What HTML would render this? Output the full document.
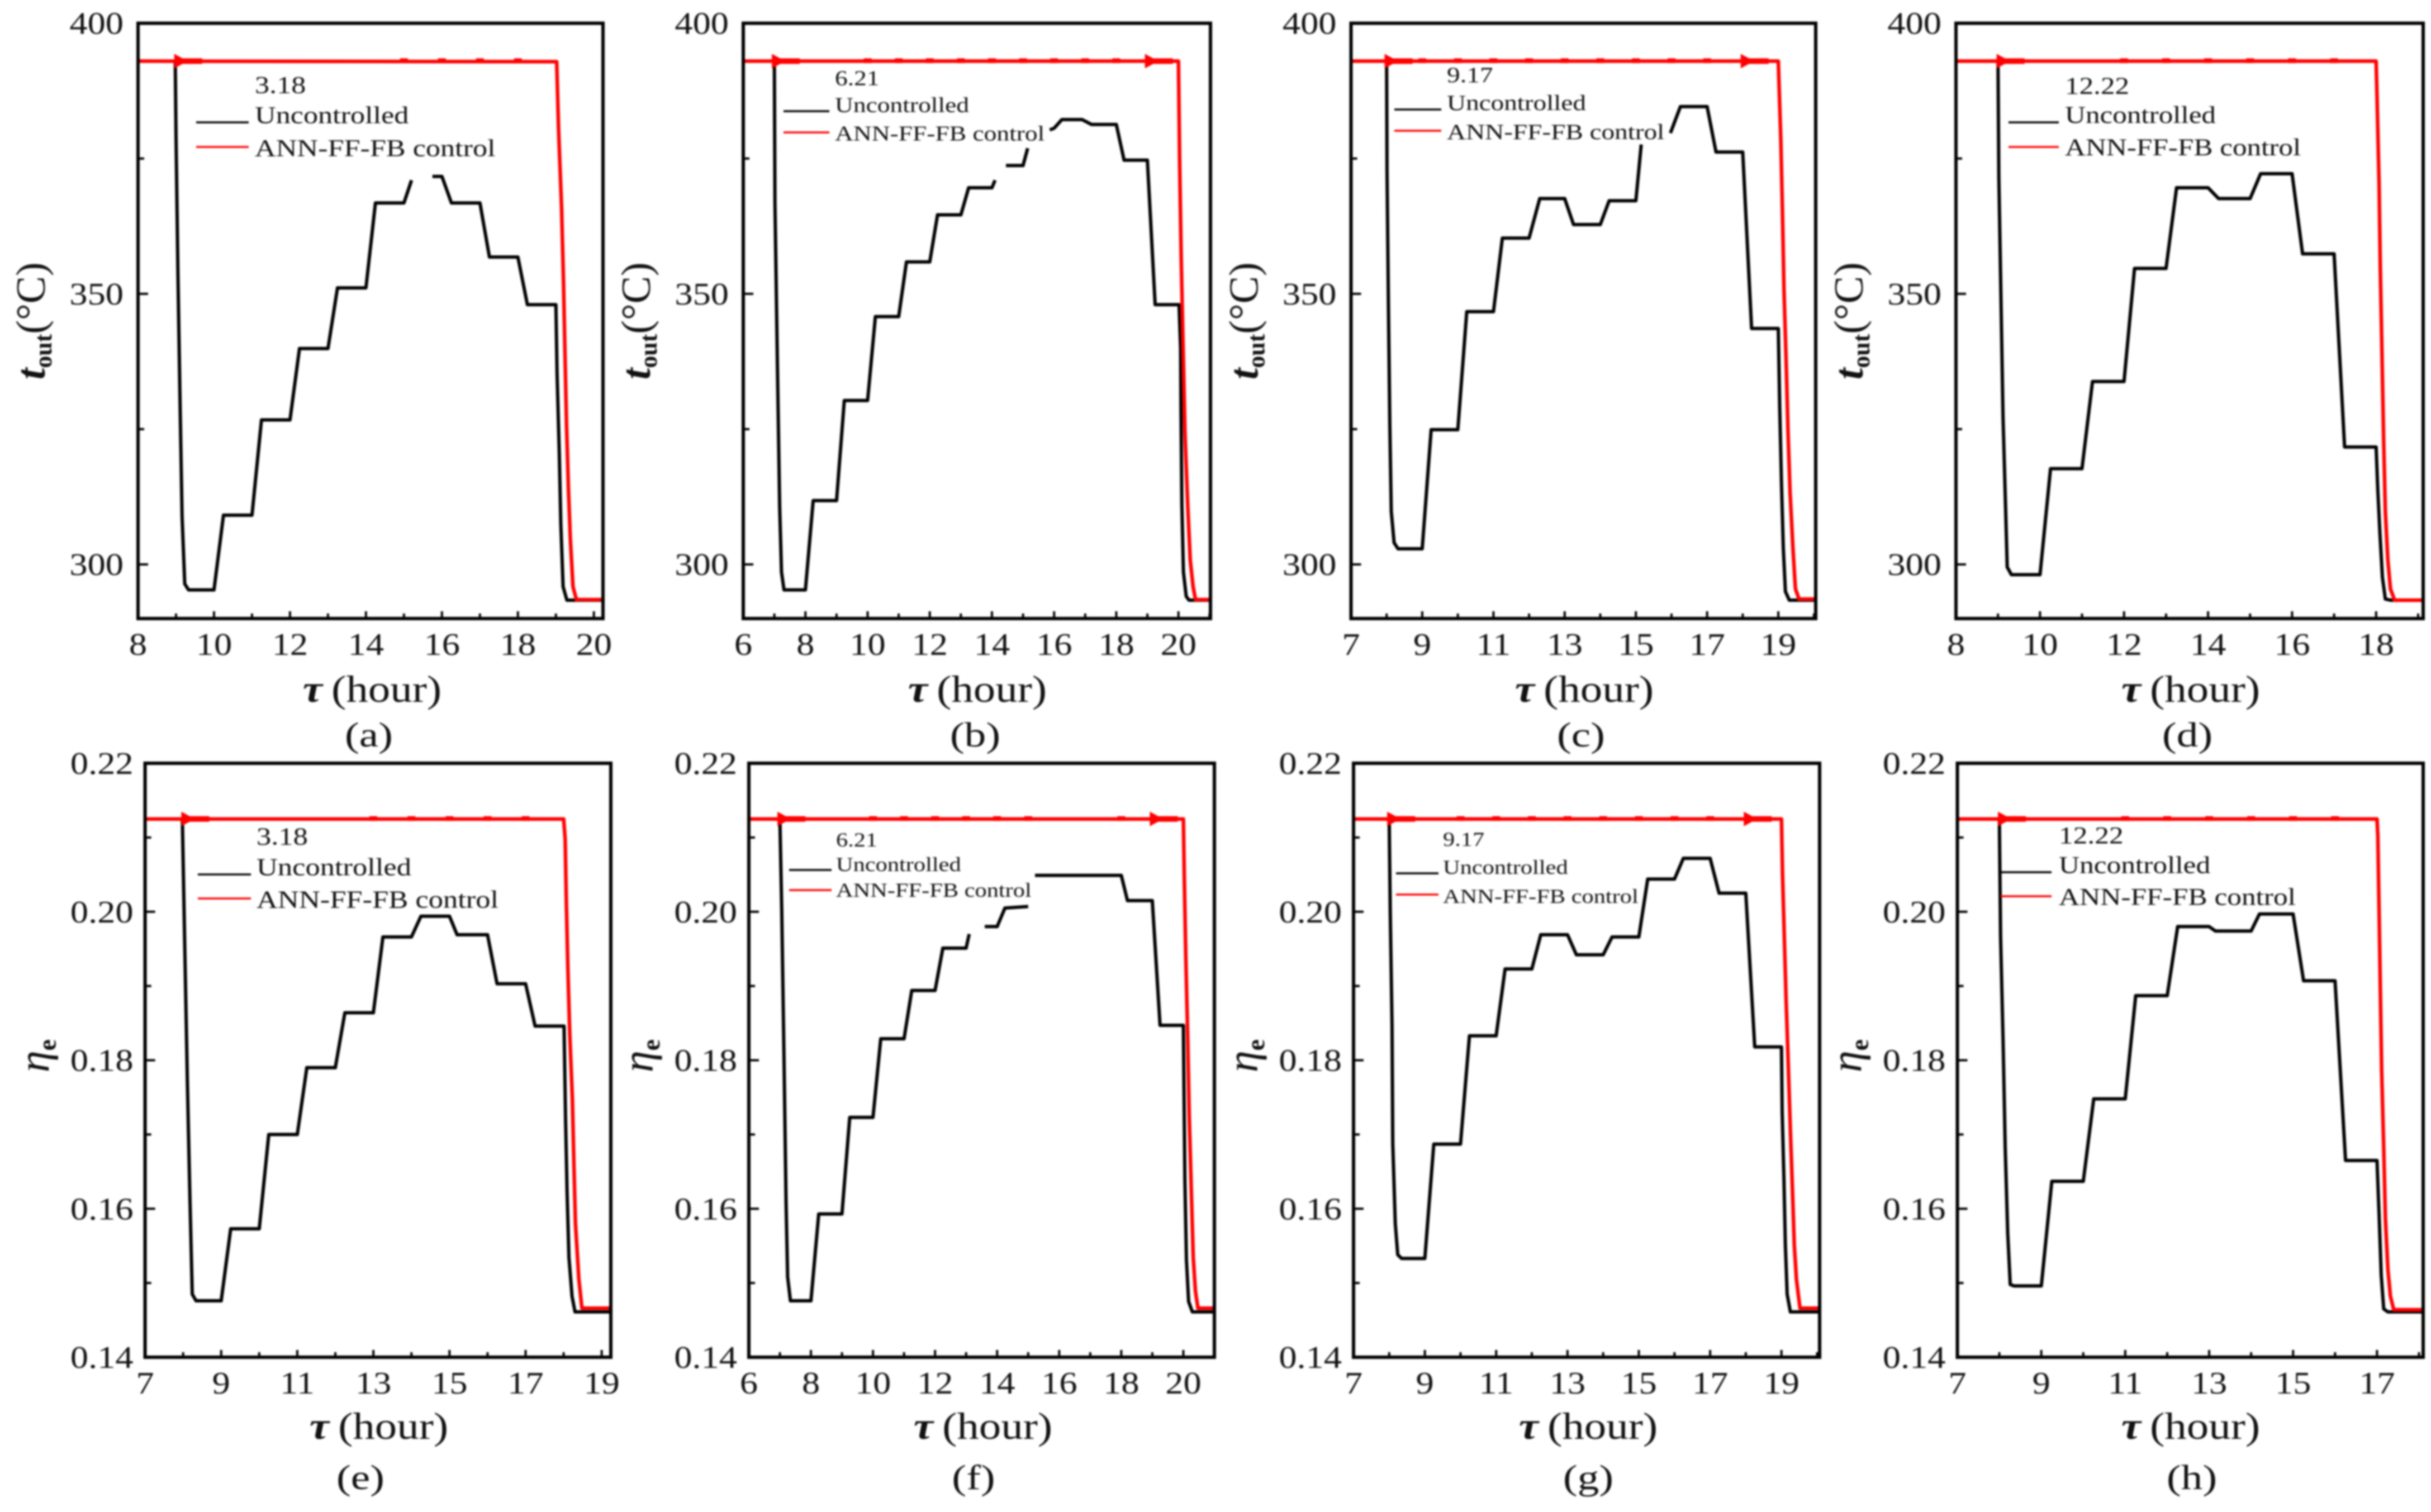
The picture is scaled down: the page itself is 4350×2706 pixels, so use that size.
<!DOCTYPE html>
<html lang="en">
<head>
<meta charset="utf-8">
<title>Outlet temperature and efficiency, uncontrolled vs ANN-FF-FB control</title>
<style>
html,body{margin:0;padding:0;background:#fff;width:4350px;height:2706px;overflow:hidden}
svg{display:block;filter:blur(1.5px)}
text{font-family:"Liberation Serif","DejaVu Serif",serif;fill:#111}
</style>
</head>
<body>
<svg id="figure" xmlns="http://www.w3.org/2000/svg" width="4350" height="2706" viewBox="0 0 4350 2706"></svg>
<script>
// ---- Data (null = gap in the trace) ----
const tauUncA = [8.98,9,9.05,9.11,9.16,9.23,9.33,10,10.25,11,11.25,12,12.25,13,13.25,14,14.25,15,15.2,null,15.75,16,16.25,17,17.25,18,18.25,19,19.03,19.09,19.13,19.19,19.29,20.24];
const uncA    = [393,378.8,353.7,328.1,308.9,296.4,295.3,295.3,309.1,309.1,326.7,326.7,339.9,339.9,351.1,351.1,366.8,366.8,371,null,371.7,371.7,366.8,366.8,356.8,356.8,348,348,335.3,320.5,307.5,295.9,293.4,293.4];
const tauCtlA = [8,19.02,19.07,19.15,19.2,19.24,19.28,19.33,19.38,19.45,19.54,20.24];
const ctlA    = [393,392.9,380.5,365.8,352.3,338.9,325.9,314.2,304.8,295.9,293.5,293.5];
const arrowsA = [9.1];
const blipsA  = [15,16,17,18];

const tauUncB = [7,7.02,7.1,7.17,7.23,7.31,8,8.25,9,9.25,10,10.25,11,11.25,12,12.25,13,13.25,14,14.1,null,14.45,15,15.15,null,15.86,16,16.25,16.9,17.2,18,18.25,19,19.25,20.02,20.07,20.08,20.11,20.16,20.25,20.34,21.03];
const uncB    = [393,366.7,336.2,310.7,298.6,295.3,295.3,311.8,311.8,330.3,330.3,345.8,345.8,355.9,355.9,364.6,364.6,369.6,369.6,371,null,373.7,373.7,376.9,null,380.3,380.6,382.2,382.2,381.3,381.3,374.7,374.7,348,348,339.8,329,311.1,298.6,294.1,293.4,293.4];
const tauCtlB = [6,20,20.04,20.09,20.15,20.21,20.3,20.38,20.47,20.55,21.03];
const ctlB    = [393,393,373.9,356.4,339.8,324.1,310.7,300.8,295.9,293.5,293.5];
const arrowsB = [7.1,19.1];
const blipsB  = [10,11,12,13,14,15,16,17,18];

const tauUncC = [8,8.01,8.05,8.09,8.13,8.21,8.32,9,9.25,10,10.25,11,11.25,12,12.3,13,13.25,14,14.25,15,15.15,null,15.97,16.25,17,17.25,18,18.25,19,19.04,19.09,19.14,19.2,19.31,20.05];
const uncC    = [393,372.9,348.3,325.4,309.8,304,302.9,302.9,324.9,324.9,346.7,346.7,360.3,360.3,367.6,367.6,362.8,362.8,367.2,367.2,377.6,null,379.7,384.6,384.6,376.2,376.2,343.6,343.6,329,314.7,303.1,295,293.4,293.4];
const tauCtlC = [7,19,19.07,19.12,19.16,19.22,19.27,19.33,19.41,19.48,19.58,20.05];
const ctlC    = [393,393,378.4,364.1,350.6,337.6,325.1,313.4,303.1,295.5,293.6,293.6];
const arrowsC = [8.1,18.1];
const blipsC  = [9,10,11,12,13,14,15,16,17];

const tauUncD = [9,9.02,9.07,9.12,9.18,9.22,9.32,10,10.25,11,11.25,12,12.25,13,13.25,14,14.25,15,15.25,16,16.25,17,17.25,18,18.04,18.09,18.15,18.22,18.34,19.12];
const uncD    = [393,371.6,349.7,327.2,310.7,299.5,298.1,298.1,317.7,317.7,333.8,333.8,354.7,354.7,369.6,369.6,367.6,367.6,372.2,372.2,357.4,357.4,321.7,321.7,313.8,305.7,297.6,293.6,293.4,293.4];
const tauCtlD = [8,18,18.02,18.07,18.1,18.14,18.18,18.22,18.28,18.34,18.44,19.12];
const ctlD    = [393,393,387,370.4,354.6,338.9,322.8,309.8,300.8,295.5,293.4,293.4];
const arrowsD = [9.1];
const blipsD  = [12,13,14,15,16,17];

const tauUncE = [7.98,8.05,8.11,8.18,8.24,8.34,9,9.25,10,10.25,11,11.25,12,12.25,13,13.25,14,14.25,15,15.2,16,16.25,17,17.25,18.01,18.05,18.09,18.14,18.22,18.3,19.24];
const uncE    = [0.2125,0.1934,0.1774,0.1613,0.1485,0.1476,0.1476,0.1573,0.1573,0.17,0.17,0.179,0.179,0.1864,0.1864,0.1966,0.1966,0.1994,0.1994,0.1969,0.1969,0.1903,0.1903,0.1846,0.1846,0.1721,0.1623,0.1534,0.1482,0.1461,0.1461];
const tauCtlE = [7,18,18.04,18.07,18.11,18.16,18.23,18.27,18.31,18.4,18.48,19.24];
const ctlE    = [0.2125,0.2125,0.2098,0.2016,0.1925,0.1836,0.1748,0.1659,0.158,0.1505,0.1466,0.1466];
const arrowsE = [8.1];
const blipsE  = [13,14,15,16,17];

const tauUncF = [7,7.06,7.13,7.2,7.25,7.34,8,8.25,9,9.25,10,10.25,11,11.25,12,12.25,13,13.1,null,13.6,14,14.25,15,null,15.22,18,18.2,19,19.25,20,20.02,20.05,20.1,20.17,20.29,21];
const uncF    = [0.2125,0.2,0.1807,0.1607,0.1508,0.1476,0.1476,0.1593,0.1593,0.1723,0.1723,0.1829,0.1829,0.1894,0.1894,0.1951,0.1951,0.197,null,0.198,0.198,0.2005,0.2007,null,0.2049,0.2049,0.2015,0.2015,0.1847,0.1847,0.1761,0.1639,0.1531,0.1475,0.1461,0.1461];
const tauCtlF = [6,20,20.03,20.08,20.14,20.19,20.26,20.32,20.39,20.47,21];
const ctlF    = [0.2125,0.2125,0.2049,0.1938,0.1833,0.1725,0.162,0.1534,0.1489,0.1466,0.1466];
const arrowsF = [7.1,19.1];
const blipsF  = [10,11,12,13,14,15,18];

const tauUncG = [8,8.03,8.08,8.1,8.17,8.24,8.35,9,9.25,10,10.25,11,11.25,12,12.25,13,13.25,14,14.25,15,15.25,16,16.25,17,17.25,18,18.25,19,19.02,19.07,19.11,19.16,19.25,20.07];
const uncG    = [0.2125,0.2,0.1846,0.1688,0.158,0.1538,0.1533,0.1533,0.1687,0.1687,0.1833,0.1833,0.1923,0.1923,0.1969,0.1969,0.1942,0.1942,0.1966,0.1966,0.2044,0.2044,0.2072,0.2072,0.2025,0.2025,0.1818,0.1818,0.1731,0.1639,0.1551,0.1485,0.1461,0.1461];
const tauCtlG = [7,19,19.03,19.08,19.13,19.19,19.25,19.31,19.36,19.42,19.52,20.07];
const ctlG    = [0.2125,0.2125,0.2052,0.1967,0.1882,0.1797,0.1705,0.1623,0.1551,0.1505,0.1466,0.1466];
const arrowsG = [8.1,18.1];
const blipsG  = [10,11,12,13,14,15,16,17];

const tauUncH = [8,8.03,8.09,8.14,8.2,8.26,8.35,9,9.25,10,10.25,11,11.25,12,12.25,13,13.15,14,14.2,15,15.25,16,16.25,17,17.05,17.1,17.16,17.26,18.1];
const uncH    = [0.2125,0.1967,0.1826,0.1682,0.1567,0.1498,0.1496,0.1496,0.1637,0.1637,0.1748,0.1748,0.1887,0.1887,0.198,0.198,0.1974,0.1974,0.1997,0.1997,0.1907,0.1907,0.1665,0.1665,0.159,0.1511,0.1465,0.1461,0.1461];
const tauCtlH = [7,17,17.02,17.05,17.08,17.11,17.16,17.2,17.26,17.32,17.4,18.1];
const ctlH    = [0.2125,0.2125,0.2102,0.1997,0.1892,0.1787,0.1682,0.1587,0.1518,0.1482,0.1464,0.1464];
const arrowsH = [8.1];
const blipsH  = [11,12,13,14,15,16];

// ---- Tick labels ----
const tempTicks = ['300','350','400'];
const tempMinorTicks = [325,375];
const etaTicks = ['0.14','0.16','0.18','0.20','0.22'];
const etaMinorTicks = [0.15,0.17,0.19,0.21];
const hourTicksA = [8,10,12,14,16,18,20];
const hourTicksB = [6,8,10,12,14,16,18,20];
const hourTicksC = [7,9,11,13,15,17,19];
const hourTicksD = [8,10,12,14,16,18];
const hourTicksE = [7,9,11,13,15,17,19];
const hourTicksF = [6,8,10,12,14,16,18,20];
const hourTicksG = [7,9,11,13,15,17,19];
const hourTicksH = [7,9,11,13,15,17];
const dates = ['3.18','6.21','9.17','12.22','3.18','6.21','9.17','12.22'];
const panelLetters = ['a','b','c','d','e','f','g','h'];
const legendBlack = 'Uncontrolled';
const legendRed = 'ANN-FF-FB control';

// ---- Layout (pixels) ----
const TOP = {top:41.6,bottom:1107,yMin:290,yMax:400,labGap:26,tickY:1153,titleY:1236,capY:1318,yTitleGap:167,yTitleShift:0};
const BOT = {top:1366,bottom:2429,yMin:0.14,yMax:0.22,labGap:21,tickY:2475,titleY:2555,capY:2647,yTitleGap:172,yTitleShift:-8};

const panels = [
 {row:TOP,l:247,r:1079,x0:8,x1:20.24,tu:tauUncA,u:uncA,tc:tauCtlA,c:ctlA,ar:arrowsA,bl:blipsA,ht:hourTicksA,tx:666,cx:660,
  lg:{tx:456,l0:351,l1:445,yd:152,yu:206,ya:265,lu:219,la:263,em:52.2}},
 {row:TOP,l:1330,r:2166,x0:6,x1:21.03,tu:tauUncB,u:uncB,tc:tauCtlB,c:ctlB,ar:arrowsB,bl:blipsB,ht:hourTicksB,tx:1749,cx:1745,
  lg:{tx:1494,l0:1402,l1:1484,yd:140,yu:188,ya:239,lu:199,la:237,em:45.5}},
 {row:TOP,l:2417.5,r:3249,x0:7,x1:20.05,tu:tauUncC,u:uncC,tc:tauCtlC,c:ctlC,ar:arrowsC,bl:blipsC,ht:hourTicksC,tx:2835,cx:2829,
  lg:{tx:2589,l0:2495,l1:2579,yd:134,yu:184,ya:236,lu:196,la:234,em:47.2}},
 {row:TOP,l:3500,r:4336,x0:8,x1:19.12,tu:tauUncD,u:uncD,tc:tauCtlD,c:ctlD,ar:arrowsD,bl:blipsD,ht:hourTicksD,tx:3920,cx:3914,
  lg:{tx:3695,l0:3594,l1:3684,yd:154,yu:206,ya:264,lu:219,la:263,em:51.2}},
 {row:BOT,l:259.6,r:1093,x0:7,x1:19.24,tu:tauUncE,u:uncE,tc:tauCtlE,c:ctlE,ar:arrowsE,bl:blipsE,ht:hourTicksE,tx:678,cx:645,
  lg:{tx:459,l0:354,l1:449,yd:1497,yu:1552,ya:1610,lu:1565,la:1608,em:52.5}},
 {row:BOT,l:1340,r:2173,x0:6,x1:21,tu:tauUncF,u:uncF,tc:tauCtlF,c:ctlF,ar:arrowsF,bl:blipsF,ht:hourTicksF,tx:1759,cx:1742,
  lg:{tx:1496,l0:1412,l1:1488,yd:1503,yu:1547,ya:1593,lu:1557,la:1593,em:42.4}},
 {row:BOT,l:2422,r:3256,x0:7,x1:20.07,tu:tauUncG,u:uncG,tc:tauCtlG,c:ctlG,ar:arrowsG,bl:blipsG,ht:hourTicksG,tx:2842,cx:2842,
  lg:{tx:2582,l0:2498,l1:2574,yd:1502,yu:1552,ya:1604,lu:1563,la:1601,em:42.4}},
 {row:BOT,l:3502.5,r:4336,x0:7,x1:18.1,tu:tauUncH,u:uncH,tc:tauCtlH,c:ctlH,ar:arrowsH,bl:blipsH,ht:hourTicksH,tx:3920,cx:3922,
  lg:{tx:3684,l0:3580,l1:3671,yd:1495,yu:1548,ya:1605,lu:1561,la:1604,em:51.4}}
];

const NS = 'http://www.w3.org/2000/svg';
const root = document.getElementById('figure');

function mk(parent, tag, name, attrs){
  const el = document.createElementNS(NS, tag);
  
  
  for (const k in attrs) el.setAttribute(k, attrs[k]);
  parent.appendChild(el);
  return el;
}
function label(parent, name, str, x, y, fs, sx, anchor){
  const t = mk(parent, 'text', name, {
    transform:'translate(' + x + ' ' + y + ') scale(' + sx + ' 1)',
    'font-size':fs, 'text-anchor':anchor
  });
  t.textContent = str;
  return t;
}
function sx(p, v){ return p.l + (v - p.x0) / (p.x1 - p.x0) * (p.r - p.l); }
function sy(p, v){ const R = p.row; return R.bottom - (v - R.yMin) / (R.yMax - R.yMin) * (R.bottom - R.top); }
function pathOf(p, xs, ys){
  let d = '', pen = false;
  for (let i = 0; i < xs.length; i++){
    if (xs[i] === null || ys[i] === null){ pen = false; continue; }
    d += (pen ? 'L' : 'M') + sx(p, xs[i]).toFixed(1) + ' ' + sy(p, ys[i]).toFixed(1);
    pen = true;
  }
  return d;
}

panels.forEach(function(p, idx){
  const R = p.row, letter = panelLetters[idx], isTemp = R === TOP;
  const g = mk(root, 'g', 'panel-' + letter, {});

  // series
  mk(g, 'path', 'uncontrolled-line', {d:pathOf(p, p.tu, p.u), fill:'none', stroke:'#000', 'stroke-width':6, 'stroke-linejoin':'round'});
  mk(g, 'path', 'ann-ff-fb-control-line', {d:pathOf(p, p.tc, p.c), fill:'none', stroke:'#f00', 'stroke-width':6.5, 'stroke-linejoin':'round'});
  const ctlTop = p.c[0];
  p.ar.forEach(function(h){
    const x = sx(p, h), y = sy(p, ctlTop);
    mk(g, 'polygon', 'direction-arrow', {points:(x-10)+','+(y-13)+' '+(x+14)+','+y+' '+(x-10)+','+(y+13), fill:'#f00'});
    mk(g, 'rect', 'arrow-tail', {x:x, y:y-5, width:40, height:10, fill:'#f00'});
  });
  p.bl.forEach(function(h){
    const x = sx(p, h), y = sy(p, ctlTop);
    mk(g, 'rect', 'control-marker', {x:x-7, y:y-5, width:14, height:8.5, fill:'#f00'});
  });

  // frame
  mk(g, 'rect', 'plot-frame', {x:p.l, y:R.top, width:p.r-p.l, height:R.bottom-R.top, fill:'none', stroke:'#000', 'stroke-width':6});

  // y axis
  const yLabels = isTemp ? tempTicks : etaTicks;
  yLabels.forEach(function(s){
    const v = parseFloat(s), y = sy(p, v);
    mk(g, 'line', 'y-tick', {x1:p.l, x2:p.l+18, y1:y, y2:y, stroke:'#000', 'stroke-width':4});
    label(g, 'y-tick-label', s, p.l-R.labGap, y+19, 56, 1.15, 'end');
  });
  (isTemp ? tempMinorTicks : etaMinorTicks).forEach(function(v){
    const y = sy(p, v);
    mk(g, 'line', 'y-minor-tick', {x1:p.l, x2:p.l+11, y1:y, y2:y, stroke:'#000', 'stroke-width':4});
  });

  // x axis
  p.ht.forEach(function(h){
    const x = sx(p, h);
    mk(g, 'line', 'x-tick', {x1:x, x2:x, y1:R.bottom, y2:R.bottom-13, stroke:'#000', 'stroke-width':4});
    label(g, 'x-tick-label', String(h), x, R.tickY+19, 56, 1.15, 'middle');
    const m = h + 1;
    if (m < p.x1){
      const xm = sx(p, m);
      mk(g, 'line', 'x-minor-tick', {x1:xm, x2:xm, y1:R.bottom, y2:R.bottom-9, stroke:'#000', 'stroke-width':4});
    }
  });

  // x title
  const xt = mk(g, 'text', 'x-axis-title', {
    transform:'translate(' + p.tx + ' ' + (R.titleY+20) + ') scale(1.16 1)',
    'font-size':68, 'text-anchor':'middle'
  });
  const tau = mk(xt, 'tspan', 'x-axis-symbol', {'font-style':'italic','font-weight':'bold'});
  tau.textContent = 'τ';
  const hr = mk(xt, 'tspan', 'x-axis-unit', {dx:14});
  hr.textContent = '(hour)';

  // y title
  const yc = (R.top + R.bottom) / 2 + R.yTitleShift;
  const yx = p.l - R.yTitleGap;
  const yt = mk(g, 'text', 'y-axis-title', {
    transform:'translate(' + yx + ' ' + yc + ') rotate(-90)',
    'font-size':isTemp ? 74 : 78, 'text-anchor':'middle'
  });
  const sym = isTemp
    ? mk(yt, 'tspan', 'y-axis-symbol', {'font-style':'italic','font-weight':'bold'})
    : mk(yt, 'tspan', 'y-axis-symbol', {'font-style':'italic'});
  sym.textContent = isTemp ? 't' : 'η';
  const sub = mk(yt, 'tspan', 'y-axis-subscript', {'font-weight':'bold','font-size':isTemp ? 44 : 46, dy:12});
  sub.textContent = isTemp ? 'out' : 'e';
  if (isTemp){
    const unit = mk(yt, 'tspan', 'y-axis-unit', {dy:-12});
    unit.textContent = '(°C)';
  }

  // panel caption
  label(g, 'panel-caption', '(' + letter + ')', p.cx, R.capY+18, 62, 1.25, 'middle');

  // legend
  const L = p.lg, fs = L.em / 1.19;
  const lg = mk(g, 'g', 'legend', {});
  label(lg, 'legend-date', dates[idx], L.tx, L.yd+fs*0.33, fs, 1.19, 'start');
  mk(lg, 'line', 'legend-line-uncontrolled', {x1:L.l0, x2:L.l1, y1:L.lu, y2:L.lu, stroke:'#000', 'stroke-width':3.5});
  label(lg, 'legend-entry-uncontrolled', legendBlack, L.tx, L.yu+fs*0.33, fs, 1.19, 'start');
  mk(lg, 'line', 'legend-line-control', {x1:L.l0, x2:L.l1, y1:L.la, y2:L.la, stroke:'#f00', 'stroke-width':3.5});
  label(lg, 'legend-entry-control', legendRed, L.tx, L.ya+fs*0.33, fs, 1.19, 'start');
});
</script>
</body>
</html>
